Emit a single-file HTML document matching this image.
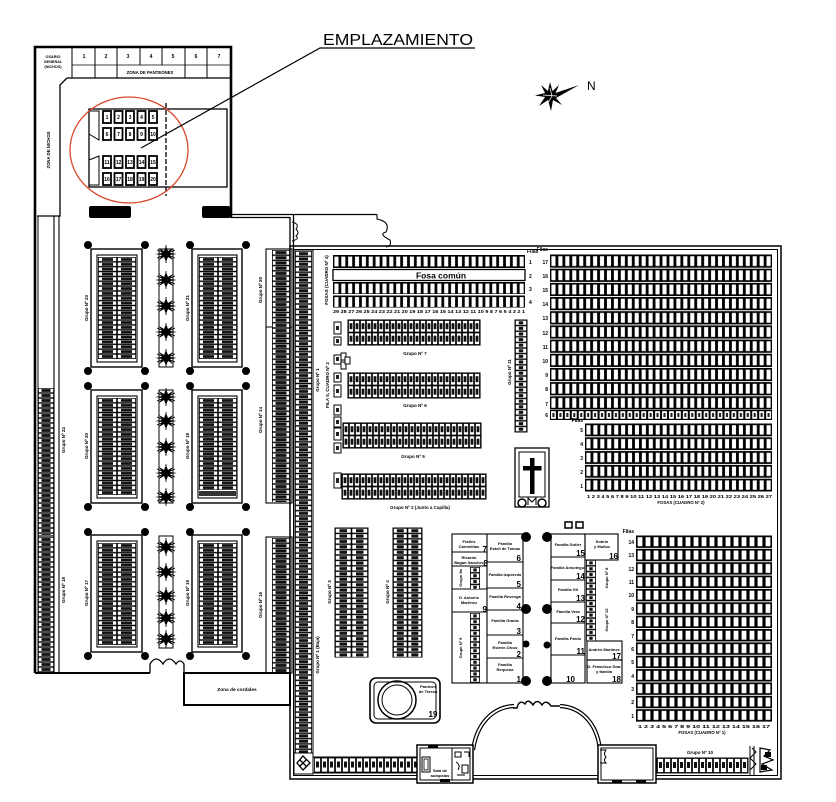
<!DOCTYPE html>
<html><head><meta charset="utf-8">
<style>
html,body{margin:0;padding:0;background:#fff;}
svg{display:block;}
text{font-family:"Liberation Sans",Arial,sans-serif;font-weight:bold;fill:#000;}
.t{font-weight:normal;}
</style></head><body>
<svg width="836" height="802" viewBox="0 0 836 802" xmlns="http://www.w3.org/2000/svg">
<defs>
<pattern id="f2" patternUnits="userSpaceOnUse" width="6.94" height="14.18">
 <rect y="0.5" width="6.94" height="13.2" fill="#000"/>
 <rect x="1.4" y="2.2" width="4.1" height="9.8" fill="#fff"/>
</pattern>
<pattern id="f2b" patternUnits="userSpaceOnUse" width="6.93" height="13.8">
 <rect y="0.5" width="6.93" height="12.8" fill="#000"/>
 <rect x="1.4" y="2.2" width="4.1" height="9.4" fill="#fff"/>
</pattern>
<pattern id="r6" patternUnits="userSpaceOnUse" width="6.94" height="10">
 <rect width="6.94" height="10" fill="#000"/>
 <rect x="1" y="1.2" width="4.9" height="7.6" fill="#fff"/>
 <rect x="2.4" y="3" width="2.1" height="4" fill="#222"/>
</pattern>
<pattern id="f1" patternUnits="userSpaceOnUse" width="8" height="13.36">
 <rect y="0.5" width="8" height="12.4" fill="#000"/>
 <rect x="1.6" y="2.2" width="4.8" height="9" fill="#fff"/>
</pattern>
<pattern id="f4" patternUnits="userSpaceOnUse" width="6.86" height="13">
 <rect width="6.86" height="13" fill="#000"/>
 <rect x="1.4" y="1.6" width="4.1" height="9.8" fill="#fff"/>
</pattern>
<pattern id="nb" patternUnits="userSpaceOnUse" width="6" height="12.5">
 <rect x="0.4" y="0.4" width="5.2" height="11.7" fill="#fff" stroke="#000" stroke-width="0.9"/>
 <rect x="1.6" y="3.2" width="2.8" height="6" fill="#111"/>
</pattern>
<pattern id="nbv" patternUnits="userSpaceOnUse" width="7" height="15">
 <rect x="0.4" y="0.4" width="6.2" height="14.2" fill="#fff" stroke="#000" stroke-width="0.9"/>
 <rect x="2" y="4" width="3" height="6" fill="#111"/>
</pattern>
<pattern id="nvA" patternUnits="userSpaceOnUse" width="17" height="5.3">
 <rect x="0.4" y="0.3" width="16.2" height="4.7" fill="#fff" stroke="#000" stroke-width="0.8"/>
 <rect x="4" y="1.2" width="9" height="2.9" fill="#111"/>
</pattern>
<pattern id="nvB" patternUnits="userSpaceOnUse" width="16.5" height="5.4">
 <rect x="0.4" y="0.3" width="15.7" height="4.8" fill="#fff" stroke="#000" stroke-width="0.8"/>
 <rect x="4.5" y="1.2" width="7.5" height="3" fill="#111"/>
</pattern>
<pattern id="nvC" patternUnits="userSpaceOnUse" width="14.5" height="5.4">
 <rect x="0.4" y="0.3" width="13.7" height="4.8" fill="#fff" stroke="#000" stroke-width="0.8"/>
 <rect x="3.8" y="1.2" width="7" height="3" fill="#111"/>
</pattern>
<pattern id="nvD" patternUnits="userSpaceOnUse" width="18" height="5.2">
 <rect x="0.4" y="0.3" width="17.2" height="4.6" fill="#fff" stroke="#000" stroke-width="0.8"/>
 <rect x="3.5" y="1.1" width="11" height="3" fill="#111"/>
</pattern>
<pattern id="nvE" patternUnits="userSpaceOnUse" width="16" height="5">
 <rect x="0.4" y="0.3" width="15.2" height="4.4" fill="#fff" stroke="#000" stroke-width="0.8"/>
 <rect x="3.5" y="1.1" width="9" height="2.8" fill="#111"/>
</pattern>
<pattern id="nvF" patternUnits="userSpaceOnUse" width="12" height="5.6">
 <rect x="0.4" y="0.3" width="11.2" height="5" fill="#fff" stroke="#000" stroke-width="0.8"/>
 <rect x="3.8" y="1.3" width="4.4" height="3" fill="#111"/>
</pattern>
<pattern id="nvG" patternUnits="userSpaceOnUse" width="10" height="5.8">
 <rect x="0.4" y="0.3" width="9.2" height="5.2" fill="#fff" stroke="#000" stroke-width="0.8"/>
 <rect x="3.3" y="1.4" width="3.4" height="3" fill="#111"/>
</pattern>
<pattern id="lb" patternUnits="userSpaceOnUse" width="19" height="4.85">
 <rect x="0.4" y="0.3" width="18.2" height="4.25" fill="#fff" stroke="#000" stroke-width="0.8"/>
 <rect x="4" y="1.1" width="11" height="2.7" fill="#111"/>
</pattern>
<g id="tr">
 <path d="M0,-8 L2,-3 L7,-6 L4,-1 L11,0 L4,1 L7,6 L2,3 L0,8 L-2,3 L-7,6 L-4,1 L-11,0 L-4,-1 L-7,-6 L-2,-3 Z" fill="#000"/>
 <path d="M-9,-4 L9,4 M-9,4 L9,-4 M0,-9 V9" stroke="#000" stroke-width="0.8"/>
</g>
</defs>

<rect width="836" height="802" fill="#fff"/>

<!-- ============ LEFT TOP BUILDING ============ -->
<g fill="none" stroke="#000">
 <path d="M35,673 V47 H231 V218" stroke-width="2.6"/>
 <path d="M38,673 V216" stroke-width="1"/>
 <path d="M72,47 V78 M95,47 V78 M117,47 V78 M140,47 V65 M162,47 V65 M185,47 V78 M207,47 V78" stroke-width="1"/>
 <path d="M72,65 H231" stroke-width="0.8"/>
 <path d="M67,78 H231" stroke-width="1.3"/>
 <path d="M67,78 L60,85 V216 H37" stroke-width="1.3"/>
 <path d="M54,216 V673 M59,216 V673" stroke-width="1.1"/>
 <rect x="89" y="109" width="138" height="78" stroke-width="1.3"/>
 <path d="M166,103 V196" stroke-width="1.3" stroke-dasharray="5,2"/>
 <path d="M89,111 H99 V140 L89,134 Z M89,185 H99 V156 L89,160 Z" stroke-width="1"/>
</g>
<g fill="#fff" stroke="#000" stroke-width="1.8">
 <rect x="103" y="111" width="8" height="12"/><rect x="114.5" y="111" width="8" height="12"/><rect x="126" y="111" width="8" height="12"/><rect x="137.5" y="111" width="8" height="12"/><rect x="149" y="111" width="8" height="12"/>
 <rect x="103" y="128" width="8" height="12"/><rect x="114.5" y="128" width="8" height="12"/><rect x="126" y="128" width="8" height="12"/><rect x="137.5" y="128" width="8" height="12"/><rect x="149" y="128" width="8" height="12"/>
 <rect x="103" y="156" width="8" height="12"/><rect x="114.5" y="156" width="8" height="12"/><rect x="126" y="156" width="8" height="12"/><rect x="137.5" y="156" width="8" height="12"/><rect x="149" y="156" width="8" height="12"/>
 <rect x="103" y="173" width="8" height="12"/><rect x="114.5" y="173" width="8" height="12"/><rect x="126" y="173" width="8" height="12"/><rect x="137.5" y="173" width="8" height="12"/><rect x="149" y="173" width="8" height="12"/>
</g>
<g font-size="5" text-anchor="middle">
 <text x="107" y="119">1</text><text x="118.5" y="119">2</text><text x="130" y="119">3</text><text x="141.5" y="119">4</text><text x="153" y="119">5</text>
 <text x="107" y="136">6</text><text x="118.5" y="136">7</text><text x="130" y="136">8</text><text x="141.5" y="136">9</text><text x="153" y="136">10</text>
 <text x="107" y="164">11</text><text x="118.5" y="164">12</text><text x="130" y="164">13</text><text x="141.5" y="164">14</text><text x="153" y="164">15</text>
 <text x="107" y="181">16</text><text x="118.5" y="181">17</text><text x="130" y="181">18</text><text x="141.5" y="181">19</text><text x="153" y="181">20</text>
</g>
<ellipse cx="129" cy="150" rx="59" ry="53" fill="none" stroke="#d9472b" stroke-width="1.3"/>
<rect x="89" y="206" width="42" height="12" rx="2" fill="#000"/>
<rect x="202" y="206" width="28" height="12" rx="2" fill="#000"/>
<g font-size="5" text-anchor="middle">
 <text x="84" y="58">1</text><text x="106" y="58">2</text><text x="128" y="58">3</text><text x="151" y="58">4</text><text x="173" y="58">5</text><text x="196" y="58">6</text><text x="219" y="58">7</text>
 <text x="150" y="74" font-size="4.3">ZONA DE PANTEONES</text>
 <text x="53" y="58" font-size="3.8">OSARIO</text><text x="53" y="63" font-size="3.8">GENERAL</text><text x="53" y="68" font-size="3.8">(NICHOS)</text>
 <text x="50" y="150" font-size="4.3" transform="rotate(-90 50 150)">ZONA DE NICHOS</text>
</g>

<path d="M141,148 L320,48 H475" fill="none" stroke="#000" stroke-width="1.2"/>
<text class="t" x="323" y="45" font-size="16" textLength="150" lengthAdjust="spacingAndGlyphs">EMPLAZAMIENTO</text>
<path d="M550,82 L552.5,91 L559,85 L555.5,93 L579,85 L556,98 L562,105 L553,100 L551,111 L548,100 L539,106 L545,97 L535,95.5 L545,93 L541,85 L548,91 Z" fill="#000"/>
<path d="M550,88 L552,96 L548,103 M543,95 L557,96" stroke="#fff" stroke-width="0.7" fill="none"/>
<text class="t" x="587" y="90" font-size="12">N</text>

<path d="M231,214.5 H293 M231,217.5 H290" stroke="#000" stroke-width="1.3" fill="none"/>
<path d="M293,214.5 H377" stroke="#000" stroke-width="1.3" fill="none"/>
<path d="M377,214.5 V219 Q391,222 386,232 Q378,234 390,240 Q392,246 386,247" stroke="#000" stroke-width="1.1" fill="none"/>
<path d="M292,222 Q300,224 296,229 Q300,233 296,236 Q300,239 292,241" stroke="#000" stroke-width="1" fill="none"/>

<!-- ============ LEFT MIDDLE AREA ============ -->
<g transform="translate(38,388)"><rect width="16" height="147" fill="url(#nvE)"/></g>
<g transform="translate(38,537)"><rect width="16" height="135" fill="url(#nvE)"/></g>
<path d="M38,536 H54" stroke="#000" stroke-width="1.2"/>
<g font-size="4.5" text-anchor="middle">
 <text x="65" y="440" transform="rotate(-90 65 440)">Grupo Nº 22</text>
 <text x="65" y="590" transform="rotate(-90 65 590)">Grupo Nº 18</text>
</g>

<g fill="none" stroke="#000" stroke-width="1.4">
 <rect x="91" y="249" width="51" height="118"/><rect x="97" y="255" width="40" height="107" stroke-width="1.1"/>
 <rect x="192" y="249" width="50" height="118"/><rect x="198" y="255" width="39" height="107" stroke-width="1.1"/>
 <rect x="91" y="390" width="51" height="113"/><rect x="97" y="396" width="40" height="102" stroke-width="1.1"/>
 <rect x="192" y="390" width="50" height="113"/><rect x="198" y="396" width="39" height="102" stroke-width="1.1"/>
 <rect x="91" y="535" width="51" height="117"/><rect x="97" y="541" width="40" height="106" stroke-width="1.1"/>
 <rect x="192" y="535" width="50" height="117"/><rect x="198" y="541" width="39" height="106" stroke-width="1.1"/>
 <rect x="159" y="249" width="14" height="118" stroke-width="1"/>
 <rect x="159" y="390" width="14" height="113" stroke-width="1"/>
 <rect x="159" y="536" width="14" height="112" stroke-width="1"/>
</g>
<g transform="translate(98,257)"><rect width="38" height="102" fill="url(#lb)"/></g>
<g transform="translate(199,257)"><rect width="38" height="102" fill="url(#lb)"/></g>
<g transform="translate(98,398)"><rect width="38" height="97" fill="url(#lb)"/></g>
<g transform="translate(199,398)"><rect width="38" height="92" fill="url(#lb)"/></g>
<rect x="199" y="491" width="37" height="5" fill="#333"/>
<g transform="translate(98,543)"><rect width="38" height="102" fill="url(#lb)"/></g>
<g transform="translate(199,543)"><rect width="38" height="102" fill="url(#lb)"/></g>
<g font-size="4.5" text-anchor="middle">
 <text x="88" y="308" transform="rotate(-90 88 308)">Grupo Nº 23</text>
 <text x="189" y="308" transform="rotate(-90 189 308)">Grupo Nº 21</text>
 <text x="88" y="446" transform="rotate(-90 88 446)">Grupo Nº 20</text>
 <text x="189" y="446" transform="rotate(-90 189 446)">Grupo Nº 19</text>
 <text x="88" y="593" transform="rotate(-90 88 593)">Grupo Nº 17</text>
 <text x="189" y="593" transform="rotate(-90 189 593)">Grupo Nº 15</text>
</g>
<g fill="#000">
 <circle cx="88" cy="245" r="4"/><circle cx="145" cy="245" r="4"/><circle cx="88" cy="371" r="4"/><circle cx="145" cy="371" r="4"/>
 <circle cx="190" cy="245" r="4"/><circle cx="246" cy="245" r="4"/><circle cx="190" cy="371" r="4"/><circle cx="246" cy="371" r="4"/>
 <circle cx="88" cy="386" r="4"/><circle cx="145" cy="386" r="4"/><circle cx="88" cy="507" r="4"/><circle cx="145" cy="507" r="4"/>
 <circle cx="190" cy="386" r="4"/><circle cx="246" cy="386" r="4"/><circle cx="190" cy="507" r="4"/><circle cx="246" cy="507" r="4"/>
 <circle cx="88" cy="532" r="4"/><circle cx="145" cy="532" r="4"/><circle cx="88" cy="656" r="4"/><circle cx="145" cy="656" r="4"/>
 <circle cx="190" cy="532" r="4"/><circle cx="246" cy="532" r="4"/><circle cx="190" cy="656" r="4"/><circle cx="246" cy="656" r="4"/>
</g>
<use href="#tr" transform="translate(166,254)"/><use href="#tr" transform="translate(166,280)"/><use href="#tr" transform="translate(166,306)"/><use href="#tr" transform="translate(166,332)"/><use href="#tr" transform="translate(166,358)"/>
<use href="#tr" transform="translate(166,397)"/><use href="#tr" transform="translate(166,421)"/><use href="#tr" transform="translate(166,447)"/><use href="#tr" transform="translate(166,473)"/><use href="#tr" transform="translate(166,497)"/>
<use href="#tr" transform="translate(166,547)"/><use href="#tr" transform="translate(166,572)"/><use href="#tr" transform="translate(166,596)"/><use href="#tr" transform="translate(166,618)"/><use href="#tr" transform="translate(166,639)"/>

<g fill="none" stroke="#000" stroke-width="1.1">
 <rect x="266" y="249" width="26" height="254"/>
 <rect x="266" y="537" width="26" height="136"/>
 <path d="M266,327 H292"/>
</g>
<g transform="translate(272,250)"><rect width="18" height="252" fill="url(#nvD)"/></g>
<g transform="translate(272,538)"><rect width="18" height="134" fill="url(#nvD)"/></g>
<g font-size="4.5" text-anchor="middle">
 <text x="262" y="290" transform="rotate(-90 262 290)">Grupo Nº 20</text>
 <text x="262" y="420" transform="rotate(-90 262 420)">Grupo Nº 14</text>
 <text x="262" y="605" transform="rotate(-90 262 605)">Grupo Nº 16</text>
</g>

<path d="M35,673 H150 M184,673 H290" stroke="#000" stroke-width="2" fill="none"/>
<path d="M150,673 V664 Q156,654 163,664 Q169,654 176,664 Q180,658 184,664 V673" stroke="#000" stroke-width="1.3" fill="none"/>
<rect x="184" y="673" width="106" height="32" fill="none" stroke="#000" stroke-width="2"/>
<text x="237" y="691" font-size="4.8" text-anchor="middle">Zona de cordales</text>

<!-- ============ MAIN COMPOUND ============ -->
<rect x="290" y="246" width="491" height="533" fill="none" stroke="#000" stroke-width="1.5"/>
<rect x="293.5" y="249.5" width="484" height="526" fill="none" stroke="#000" stroke-width="1"/>
<path d="M290,217 V246 M293.5,214.5 V249.5" stroke="#000" stroke-width="1.3"/>

<rect x="294" y="250" width="19" height="505" fill="none" stroke="#000" stroke-width="1"/>
<g transform="translate(295,251)"><rect width="17" height="502" fill="url(#nvA)"/></g>
<rect x="294" y="753" width="19" height="21" fill="#fff" stroke="#000" stroke-width="1"/>
<path d="M297,763 L303,756 L310,763 L303,770 Z M300,760 L306,766 M306,760 L300,766" stroke="#000" stroke-width="1.3" fill="none"/>
<rect x="313" y="757" width="104" height="16" fill="none" stroke="#000" stroke-width="1"/>
<g transform="translate(314,757.5)"><rect width="103" height="15" fill="url(#nbv)"/></g>
<g font-size="4.5" text-anchor="middle">
 <text x="319" y="380" transform="rotate(-90 319 380)">Grupo Nº 1</text>
 <text x="319" y="655" transform="rotate(-90 319 655)">Grupo Nº 1  (Baja)</text>
 <text x="328" y="280" transform="rotate(-90 328 280)">FOSAS (CUADRO Nº 4)</text>
 <text x="329" y="385" transform="rotate(-90 329 385)">FILA 5, CUADRO Nº 2</text>
</g>

<g transform="translate(333,255)"><rect width="192" height="13" fill="url(#f4)"/></g>
<rect x="333" y="269.5" width="192" height="11" fill="#fff" stroke="#000" stroke-width="1.3"/>
<text x="441" y="278.5" font-size="8.5" text-anchor="middle">Fosa común</text>
<g transform="translate(333,282)"><rect width="192" height="12" fill="url(#f4)"/></g>
<g transform="translate(333,295.5)"><rect width="192" height="12" fill="url(#f4)"/></g>
<text x="333" y="313" font-size="4.6" textLength="192" lengthAdjust="spacingAndGlyphs">29 28 27 26 25 24 23 22 21 20 19 18 17 16 15 14 13 12 11 10 9 8 7 6 5 4 3 2 1</text>
<g font-size="5">
 <text x="527" y="253">Filas</text>
 <text x="529" y="264">1</text><text x="529" y="278">2</text><text x="529" y="291">3</text><text x="529" y="304">4</text>
</g>

<g transform="translate(348,320)"><rect width="132" height="25" fill="url(#nb)"/></g>
<g transform="translate(348,373)"><rect width="132" height="25" fill="url(#nb)"/></g>
<g transform="translate(343,423)"><rect width="138" height="25" fill="url(#nb)"/></g>
<g transform="translate(342,474)"><rect width="144" height="25" fill="url(#nb)"/></g>
<g fill="none" stroke="#000" stroke-width="1.1">
 <rect x="348" y="320" width="132" height="25"/><rect x="348" y="373" width="132" height="25"/>
 <rect x="343" y="423" width="138" height="25"/><rect x="342" y="474" width="144" height="25"/>
</g>
<g font-size="4.5" text-anchor="middle">
 <text x="415" y="355">Grupo Nº 7</text>
 <text x="415" y="407">Grupo Nº 6</text>
 <text x="413" y="458">Grupo Nº 5</text>
 <text x="420" y="509">Grupo Nº 2  (Junto a Capilla)</text>
</g>
<g fill="#fff" stroke="#000" stroke-width="1">
 <rect x="334" y="322" width="7" height="12"/><rect x="334" y="337" width="7" height="8"/>
 <rect x="334" y="355" width="7" height="9"/><rect x="341" y="353" width="5" height="7"/><rect x="341" y="362" width="5" height="7"/><rect x="345" y="357" width="5" height="7"/>
 <rect x="334" y="373" width="7" height="9"/><rect x="334" y="385" width="7" height="12"/>
 <rect x="334" y="405" width="7" height="10"/><rect x="334" y="417" width="7" height="10"/>
 <rect x="334" y="428" width="7" height="12"/><rect x="334" y="443" width="7" height="10"/>
 <rect x="334" y="473" width="7" height="15"/>
</g>
<g fill="#222">
 <rect x="336" y="326" width="3" height="4"/><rect x="336" y="339" width="3" height="4"/><rect x="336" y="357" width="3" height="4"/>
 <rect x="336" y="375" width="3" height="4"/><rect x="336" y="389" width="3" height="4"/><rect x="336" y="408" width="3" height="4"/>
 <rect x="336" y="420" width="3" height="4"/><rect x="336" y="432" width="3" height="4"/><rect x="336" y="446" width="3" height="4"/><rect x="336" y="478" width="3" height="5"/>
</g>

<rect x="515" y="320" width="12" height="112" fill="none" stroke="#000" stroke-width="1"/>
<g transform="translate(515,320)"><rect width="12" height="112" fill="url(#nvF)"/></g>
<text x="511" y="372" font-size="4.5" text-anchor="middle" transform="rotate(-90 511 372)">Grupo Nº 11</text>

<rect x="515" y="448" width="34" height="59" fill="#fff" stroke="#000" stroke-width="1.3"/>
<rect x="519" y="452" width="26" height="45" fill="none" stroke="#000" stroke-width="1"/>
<rect x="530" y="458" width="4.5" height="36" fill="#000"/>
<rect x="523" y="466" width="18.5" height="4.5" fill="#000"/>
<circle cx="522" cy="503" r="4" fill="none" stroke="#000" stroke-width="1.5"/>
<circle cx="542" cy="503" r="4" fill="none" stroke="#000" stroke-width="1.5"/>
<path d="M528,505 V498 L532,502 L536,498 V505" fill="none" stroke="#000" stroke-width="1"/>

<g transform="translate(550,254)"><rect width="222" height="156" fill="url(#f2)"/></g>
<g transform="translate(550,410)"><rect width="222" height="10" fill="url(#r6)"/></g>
<g transform="translate(585,423)"><rect width="187" height="69" fill="url(#f2b)"/></g>
<g font-size="5" text-anchor="end">
 <text x="548" y="251">Filas</text>
 <text x="548" y="264">17</text><text x="548" y="278">16</text><text x="548" y="292">15</text><text x="548" y="306">14</text><text x="548" y="320">13</text><text x="548" y="335">12</text><text x="548" y="349">11</text><text x="548" y="363">10</text><text x="548" y="377">9</text><text x="548" y="391">8</text><text x="548" y="406">7</text><text x="548" y="417">6</text>
 <text x="583" y="422">Filas</text>
 <text x="583" y="432">5</text><text x="583" y="446">4</text><text x="583" y="460">3</text><text x="583" y="474">2</text><text x="583" y="488">1</text>
</g>
<text x="587" y="498" font-size="4.6" textLength="185" lengthAdjust="spacingAndGlyphs">1 2 3 4 5 6 7 8 9 10 11 12 13 14 15 16 17 18 19 20 21 22 23 24 25 26 27</text>
<text x="681" y="504" font-size="4.3" text-anchor="middle">FOSAS (CUADRO Nº 2)</text>

<g transform="translate(636,535)"><rect width="136" height="187" fill="url(#f1)"/></g>
<g font-size="5" text-anchor="end">
 <text x="634" y="533">Filas</text>
 <text x="634" y="544">14</text><text x="634" y="557">13</text><text x="634" y="571">12</text><text x="634" y="584">11</text><text x="634" y="597">10</text><text x="634" y="611">9</text><text x="634" y="624">8</text><text x="634" y="638">7</text><text x="634" y="651">6</text><text x="634" y="664">5</text><text x="634" y="678">4</text><text x="634" y="691">3</text><text x="634" y="704">2</text><text x="634" y="718">1</text>
</g>
<text x="638" y="728" font-size="4.6" textLength="132" lengthAdjust="spacingAndGlyphs">1  2  3  4  5  6  7  8  9 10 11 12 13 14 15 16 17</text>
<text x="702" y="734" font-size="4.3" text-anchor="middle">FOSAS (CUADRO Nº 1)</text>

<rect x="335" y="528" width="33" height="129" fill="none" stroke="#000" stroke-width="1"/>
<g transform="translate(335,528)"><rect width="33" height="129" fill="url(#nvB)"/></g>
<rect x="393" y="528" width="29" height="129" fill="none" stroke="#000" stroke-width="1"/>
<g transform="translate(393,528)"><rect width="29" height="129" fill="url(#nvC)"/></g>
<g font-size="4.5" text-anchor="middle">
 <text x="331" y="592" transform="rotate(-90 331 592)">Grupo Nº 3</text>
 <text x="389" y="592" transform="rotate(-90 389 592)">Grupo Nº 4</text>
</g>

<g fill="none" stroke="#000" stroke-width="1.1">
 <rect x="452" y="534" width="71" height="149"/>
 <path d="M487,534 V683"/>
 <path d="M452,552 H487 M452,566 H487 M452,589 H487 M452,612 H487"/>
 <path d="M487,562 H523 M487,588 H523 M487,610 H523 M487,635 H523 M487,658 H523"/>
</g>
<g transform="translate(470,567)"><rect width="10" height="22" fill="url(#nvG)"/></g>
<g transform="translate(470,613)"><rect width="10" height="70" fill="url(#nvG)"/></g>
<g font-size="4" text-anchor="middle">
 <text x="469" y="543">Frailes</text><text x="469" y="548">Carmelitas</text>
 <text x="469" y="559">Ricardo</text><text x="469" y="564">Bagan Sanchez</text>
 <text x="469" y="599">D. Antonio</text><text x="469" y="604">Martinez</text>
 <text x="505" y="545">Familia</text><text x="505" y="550">Estell de Tomas</text>
 <text x="505" y="576">Familia Izquierdo</text>
 <text x="505" y="598">Familia Revenga</text>
 <text x="505" y="622">Familia Gracia</text>
 <text x="505" y="644">Familia</text><text x="505" y="649">Esteve-Olcoz</text>
 <text x="505" y="666">Familia</text><text x="505" y="671">Requena</text>
 <text x="462" y="578" transform="rotate(-90 462 578)">Grupo 9a</text>
 <text x="462" y="648" transform="rotate(-90 462 648)">Grupo Nº 9</text>
</g>
<g font-size="8" text-anchor="end">
 <text x="487" y="552">7</text><text x="488" y="566">8</text><text x="487" y="612">9</text>
 <text x="521" y="561">6</text><text x="521" y="587">5</text><text x="521" y="609">4</text><text x="521" y="634">3</text><text x="521" y="657">2</text><text x="521" y="682">1</text>
</g>
<g fill="none" stroke="#000" stroke-width="1.1">
 <rect x="551" y="534" width="34" height="149"/>
 <path d="M551,557 H585 M551,580 H585 M551,602 H585 M551,623 H585 M551,655 H585"/>
 <rect x="585" y="534" width="33" height="26"/>
 <rect x="587" y="641" width="35" height="19"/>
 <rect x="587" y="660" width="35" height="23"/>
</g>
<g transform="translate(586,560)"><rect width="10" height="81" fill="url(#nvG)"/></g>
<g font-size="4" text-anchor="middle">
 <text x="568" y="546">Familia Gutier</text>
 <text x="568" y="569">Familia Ansotegui</text>
 <text x="568" y="591">Familia Gil</text>
 <text x="568" y="613">Familia Vera</text>
 <text x="568" y="640">Familia Pardo</text>
 <text x="602" y="543">Sobrin</text><text x="602" y="548">y Muñoz</text>
 <text x="604" y="651">Andrés Martínez</text>
 <text x="604" y="668">D. Francisco Díaz</text><text x="604" y="673">y familia</text>
 <text x="608" y="578" transform="rotate(-90 608 578)">Grupo Nº 8</text>
 <text x="608" y="620" transform="rotate(-90 608 620)">Grupo Nº 13</text>
</g>
<g font-size="8" text-anchor="end">
 <text x="585" y="556">15</text><text x="585" y="579">14</text><text x="585" y="601">13</text><text x="585" y="622">12</text><text x="585" y="654">11</text><text x="575" y="682">10</text>
 <text x="618" y="559">16</text><text x="621" y="659">17</text><text x="621" y="682">18</text>
</g>
<rect x="565" y="522" width="7" height="6" fill="#fff" stroke="#000" stroke-width="1.5"/>
<rect x="576" y="522" width="7" height="6" fill="#fff" stroke="#000" stroke-width="1.5"/>
<g fill="#000">
 <circle cx="526" cy="537" r="5"/><circle cx="526" cy="609" r="5"/><circle cx="526" cy="644" r="3.5"/><circle cx="526" cy="681" r="5"/>
 <circle cx="547" cy="537" r="5"/><circle cx="547" cy="609" r="5"/><circle cx="547" cy="645" r="3.5"/><circle cx="547" cy="681" r="5"/>
</g>

<rect x="370" y="678" width="70" height="45" rx="6" fill="none" stroke="#000" stroke-width="1.6"/>
<rect x="374" y="682" width="62" height="37" rx="4" fill="none" stroke="#000" stroke-width="1"/>
<circle cx="397" cy="700" r="19" fill="none" stroke="#000" stroke-width="1.5"/>
<circle cx="397" cy="700" r="15" fill="none" stroke="#000" stroke-width="1"/>
<text x="428" y="688" font-size="4" text-anchor="middle">Panteón</text>
<text x="428" y="693" font-size="4" text-anchor="middle">de Teresa</text>
<text x="433" y="717" font-size="8" text-anchor="middle">19</text>

<path d="M473,750 C477,722 494,707 514,706" stroke="#000" stroke-width="4.2" fill="none"/>
<path d="M473,750 C477,722 494,707 514,706" stroke="#fff" stroke-width="1.8" fill="none"/>
<path d="M560,706 C580,707 597,722 600,750" stroke="#000" stroke-width="4.2" fill="none"/>
<path d="M560,706 C580,707 597,722 600,750" stroke="#fff" stroke-width="1.8" fill="none"/>
<path d="M513,708 H517 Q519,699 525,704 Q528,698 533,705 Q537,698 542,705 Q546,699 551,706 H560" stroke="#000" stroke-width="1.4" fill="none"/>

<rect x="417" y="745" width="56" height="38" fill="#fff" stroke="#000" stroke-width="1.5"/>
<rect x="420" y="748" width="50" height="32" fill="none" stroke="#000" stroke-width="1"/>
<path d="M452,748 V780" stroke="#000" stroke-width="1"/>
<rect x="422" y="757" width="8" height="15" fill="none" stroke="#000" stroke-width="1"/>
<rect x="424" y="759" width="4" height="11" fill="none" stroke="#000" stroke-width="0.8"/>
<path d="M455,752 h6 v5 h-6z M464,752 h5 v5 M456,762 q5,3 2,8 M462,765 h6 v8 h-6z M457,775 h8" stroke="#000" stroke-width="1" fill="none"/>
<rect x="440" y="779" width="10" height="3" fill="#000"/>
<rect x="428" y="745" width="10" height="3" fill="#000"/>
<text x="440" y="772" font-size="4" text-anchor="middle">Sala de</text>
<text x="440" y="777" font-size="4" text-anchor="middle">autopsias</text>

<rect x="598" y="745" width="58" height="38" fill="#fff" stroke="#000" stroke-width="1.5"/>
<rect x="601" y="748" width="52" height="32" fill="none" stroke="#000" stroke-width="1"/>
<path d="M600,750 H606 Q603,754 606,757 Q603,760 606,763 H600" stroke="#000" stroke-width="1" fill="none"/>
<rect x="612" y="780" width="10" height="3" fill="#000"/>
<rect x="636" y="780" width="10" height="3" fill="#000"/>

<rect x="657" y="758" width="91" height="15" fill="none" stroke="#000" stroke-width="1"/>
<g transform="translate(657,758)"><rect width="91" height="15" fill="url(#nbv)"/></g>
<text x="700" y="754" font-size="4.5" text-anchor="middle">Grupo Nº 10</text>
<path d="M750,746 V776 M754,746 V776 M752,748 L756,752 L750,758 L756,764 L750,770" stroke="#000" stroke-width="1" fill="none"/>
<path d="M760,748 L770,750 L764,756 L773,760 L762,764 L772,770 L760,772 Z" stroke="#000" stroke-width="1.2" fill="none"/>
<rect x="765" y="752" width="6" height="5" fill="#000"/>
<rect x="761" y="765" width="6" height="5" fill="#000"/>
</svg>
</body></html>
